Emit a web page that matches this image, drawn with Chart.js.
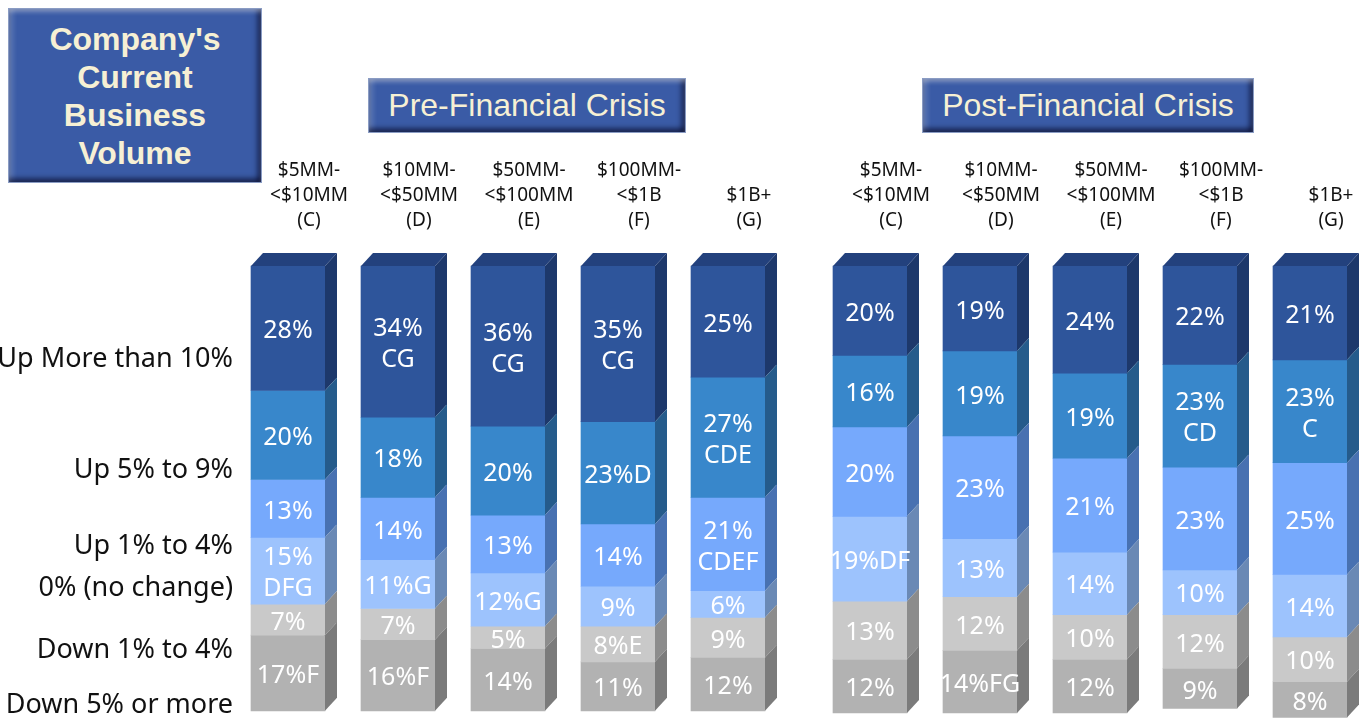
<!DOCTYPE html>
<html>
<head>
<meta charset="utf-8">
<script src="https://cdn.jsdelivr.net/npm/chart.js@4/dist/chart.umd.min.js"></script>
<style>
body{margin:0;background:#fff;width:1367px;height:727px;overflow:hidden;position:relative;font-family:"Liberation Sans",Arial,sans-serif}
canvas{position:absolute;left:0;top:0}
.box{position:absolute;background:#3a5ba6;color:#f6f0d4;display:flex;align-items:center;justify-content:center;text-align:center;box-sizing:border-box;border:1px solid #8a9cc4;z-index:2;
 box-shadow:inset 0 4px 4px -1px rgba(255,255,255,.35),inset 0 -5px 5px -1px rgba(0,0,30,.55),inset 5px 0 5px -1px rgba(255,255,255,.2),inset -5px 0 5px -1px rgba(0,0,30,.5)}
#title{left:8px;top:8px;width:254px;height:175px;font-weight:bold;font-size:32px;line-height:38px}
#pre{left:368px;top:78px;width:318px;height:55px;font-size:32px}
#post{left:922px;top:78px;width:332px;height:55px;font-size:32px}
</style>
</head>
<body>
<div class="box" id="title">Company's<br>Current<br>Business<br>Volume</div>
<div class="box" id="pre">Pre-Financial Crisis</div>
<div class="box" id="post">Post-Financial Crisis</div>
<canvas id="preChart" width="1367" height="727"></canvas>
<canvas id="postChart" width="1367" height="727"></canvas>
<script>
// categories and series
const sizes = [['$5MM-','<$10MM','(C)'],['$10MM-','<$50MM','(D)'],['$50MM-','<$100MM','(E)'],['$100MM-','<$1B','(F)'],['$1B+','(G)']];
const seriesNames = ['Up More than 10%','Up 5% to 9%','Up 1% to 4%','0% (no change)','Down 1% to 4%','Down 5% or more'];
// where the row names sit on the value axis
const rowTickPos = [21, 46, 63, 72.5, 86.5, 98.7];

// pre-financial crisis
const preUp10  = [28, 34, 36, 35, 25];
const preUp5   = [20, 18, 20, 23, 27];
const preUp1   = [13, 14, 13, 14, 21];
const preZero  = [15, 11, 12,  9,  6];
const preDown1 = [ 7,  7,  5,  8,  9];
const preDown5 = [17, 16, 14, 11, 12];
// significance letters ("\n" = on its own line)
const preUp10Sig  = ['', '\nCG', '\nCG', '\nCG', ''];
const preUp5Sig   = ['', '', '', 'D', '\nCDE'];
const preUp1Sig   = ['', '', '', '', '\nCDEF'];
const preZeroSig  = ['\nDFG', 'G', 'G', '', ''];
const preDown1Sig = ['', '', '', 'E', ''];
const preDown5Sig = ['F', 'F', '', '', ''];

// post-financial crisis
const postUp10  = [20, 19, 24, 22, 21];
const postUp5   = [16, 19, 19, 23, 23];
const postUp1   = [20, 23, 21, 23, 25];
const postZero  = [19, 13, 14, 10, 14];
const postDown1 = [13, 12, 10, 12, 10];
const postDown5 = [12, 14, 12,  9,  8];
const postUp10Sig  = ['', '', '', '', ''];
const postUp5Sig   = ['', '', '', '\nCD', '\nC'];
const postUp1Sig   = ['', '', '', '', ''];
const postZeroSig  = ['DF', '', '', '', ''];
const postDown1Sig = ['', '', '', '', ''];
const postDown5Sig = ['', 'FG', '', '', ''];

const frontColors = ['#2e559b','#3887cb','#76a9fc','#9dc3fd','#c9c9c9','#b2b2b2'];
const sideColors  = ['#1d386b','#255b8b','#4871b1','#6a89b5','#8c8c8c','#7b7b7b'];
const topColor = '#23417d';
const dx = 12, dy = 13;

const bar3d = {
	id:'bar3d',
	afterDatasetsDraw(chart){
		const ctx = chart.ctx;
		ctx.save();
		chart.data.datasets.forEach(function(ds, di){
			chart.getDatasetMeta(di).data.forEach(function(bar){
				const top = Math.min(bar.y, bar.base), bottom = Math.max(bar.y, bar.base);
				const left = bar.x - bar.width/2, right = bar.x + bar.width/2;
				ctx.fillStyle = sideColors[di];
				ctx.beginPath();
				ctx.moveTo(right, top);
				ctx.lineTo(right+dx, top-dy);
				ctx.lineTo(right+dx, bottom-dy);
				ctx.lineTo(right, bottom);
				ctx.closePath();
				ctx.fill();
				if(di == 0){
					ctx.fillStyle = topColor;
					ctx.beginPath();
					ctx.moveTo(left, top);
					ctx.lineTo(left+dx, top-dy);
					ctx.lineTo(right+dx, top-dy);
					ctx.lineTo(right, top);
					ctx.closePath();
					ctx.fill();
				}
			});
		});
		// value labels
		ctx.fillStyle = '#fff';
		ctx.font = '25px "Noto Sans"';
		ctx.textAlign = 'center';
		ctx.textBaseline = 'middle';
		chart.data.datasets.forEach(function(ds, di){
			chart.getDatasetMeta(di).data.forEach(function(bar, i){
				const mid = (bar.y + bar.base)/2 + 3;
				const lines = (ds.data[i] + '%' + ds.sig[i]).split('\n');
				lines.forEach(function(t, j){
					ctx.fillText(t, bar.x, mid + (j - (lines.length-1)/2)*31);
				});
			});
		});
		ctx.restore();
	}
};

function makeChart(id, values, sigs, left){
	const datasets = values.map(function(v, k){
		return {label:seriesNames[k], data:v, sig:sigs[k], backgroundColor:frontColors[k], borderWidth:0, barThickness:74, clip:false};
	});
	return new Chart(document.getElementById(id), {
		type:'bar',
		data:{labels:sizes, datasets:datasets},
		plugins:[bar3d],
		options:{
			responsive:false,
			animation:false,
			layout:{padding:left ? {left:0, right:584, top:0, bottom:14} : {left:815, right:2, top:0, bottom:14}},
			plugins:{legend:{display:false}, tooltip:{enabled:false}},
			scales:{
				x:{
					position:'top',
					stacked:true,
					grid:{display:false, drawTicks:false},
					border:{display:false},
					afterFit:function(s){ s.height = 266; },
					ticks:{color:'#111', padding:33, labelOffset:21, maxRotation:0, autoSkip:false,
						font:{family:'Noto Sans', size:19, lineHeight:1.32}}
				},
				y:{
					display:left,
					stacked:true,
					reverse:true,
					min:0, max:100,
					grid:{display:false, drawTicks:false},
					border:{display:false},
					afterFit:function(s){ s.width = left ? 233 : 0; },
					afterBuildTicks:function(s){ s.ticks = rowTickPos.map(function(v){ return {value:v}; }); },
					ticks:{color:'#111', padding:0, autoSkip:false,
						font:{family:'Noto Sans', size:27},
						callback:function(v, i){ return seriesNames[i]; }}
				}
			}
		}
	});
}

makeChart('preChart',
	[preUp10, preUp5, preUp1, preZero, preDown1, preDown5],
	[preUp10Sig, preUp5Sig, preUp1Sig, preZeroSig, preDown1Sig, preDown5Sig], true);
makeChart('postChart',
	[postUp10, postUp5, postUp1, postZero, postDown1, postDown5],
	[postUp10Sig, postUp5Sig, postUp1Sig, postZeroSig, postDown1Sig, postDown5Sig], false);
</script>
</body>
</html>
